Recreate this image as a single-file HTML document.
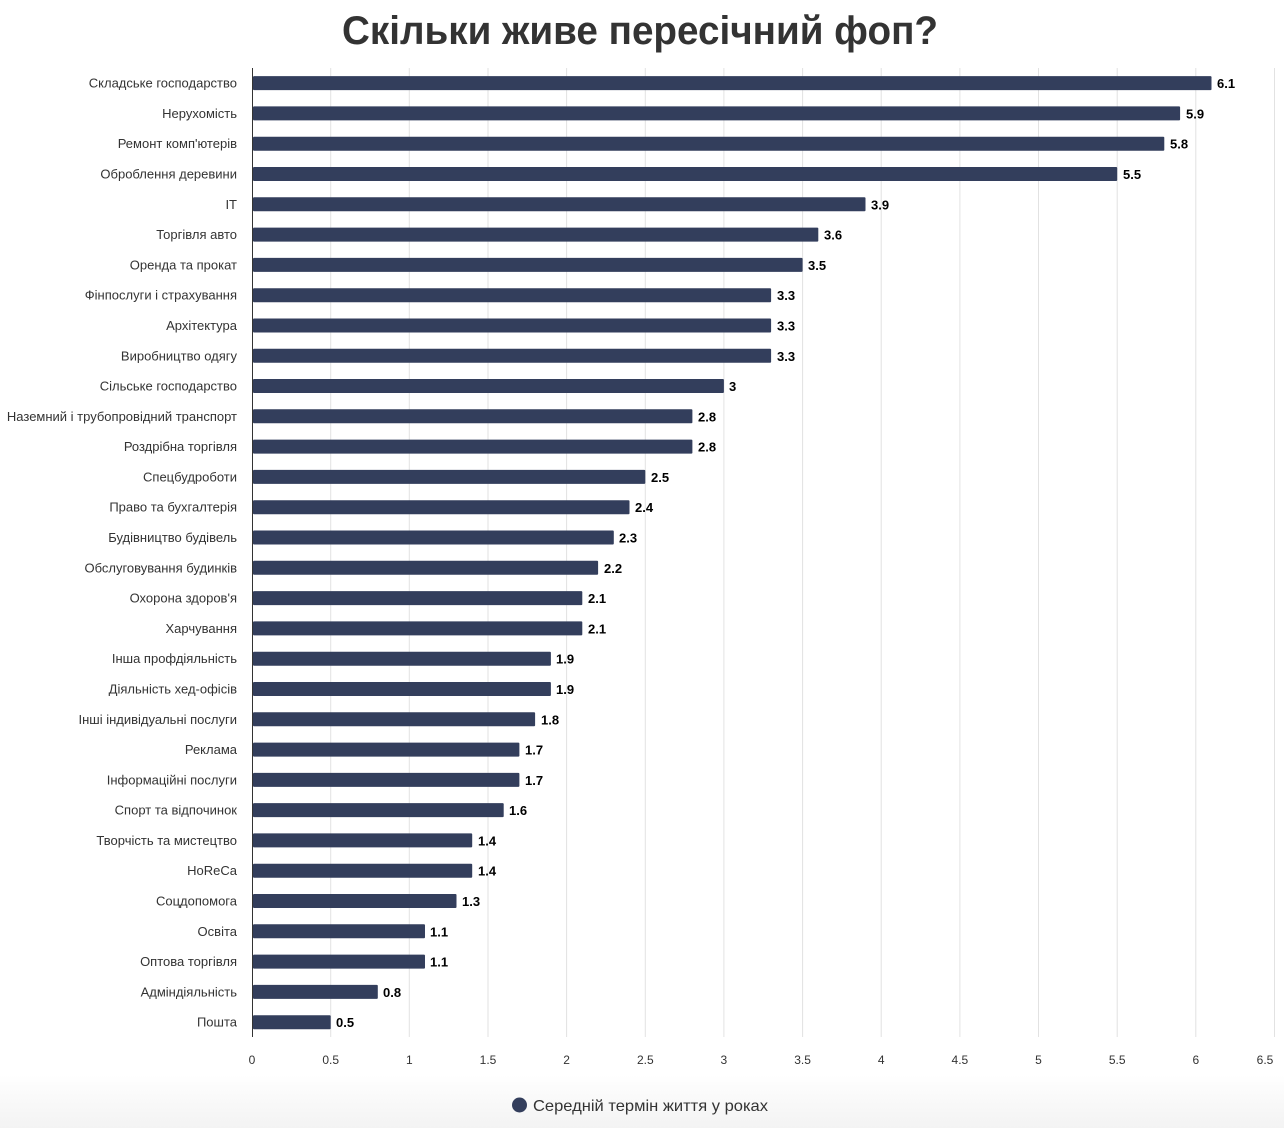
<!DOCTYPE html>
<html><head><meta charset="utf-8"><style>
html,body{margin:0;padding:0;background:#fff}
svg{display:block;font-family:"Liberation Sans",sans-serif}
</style></head><body>
<svg width="1284" height="1128" viewBox="0 0 1284 1128" xmlns="http://www.w3.org/2000/svg">
<defs><linearGradient id="bg" x1="0" y1="0" x2="0" y2="1"><stop offset="0" stop-color="#fff"/><stop offset="1" stop-color="#f3f3f3"/></linearGradient></defs>
<rect x="0" y="1075" width="1284" height="53" fill="url(#bg)"/>
<text x="640" y="44" text-anchor="middle" font-size="40" font-weight="bold" fill="#333" textLength="596" lengthAdjust="spacingAndGlyphs">Скільки живе пересічний фоп?</text>
<g stroke="#e2e2e2" stroke-width="1">
<line x1="330.7" y1="68" x2="330.7" y2="1037"/><line x1="409.3" y1="68" x2="409.3" y2="1037"/><line x1="488" y1="68" x2="488" y2="1037"/><line x1="566.6" y1="68" x2="566.6" y2="1037"/><line x1="645.3" y1="68" x2="645.3" y2="1037"/><line x1="723.9" y1="68" x2="723.9" y2="1037"/><line x1="802.6" y1="68" x2="802.6" y2="1037"/><line x1="881.2" y1="68" x2="881.2" y2="1037"/><line x1="959.9" y1="68" x2="959.9" y2="1037"/><line x1="1038.5" y1="68" x2="1038.5" y2="1037"/><line x1="1117.2" y1="68" x2="1117.2" y2="1037"/><line x1="1195.8" y1="68" x2="1195.8" y2="1037"/><line x1="1274.5" y1="68" x2="1274.5" y2="1037"/>
</g>
<line x1="252.5" y1="68" x2="252.5" y2="1037" stroke="#333" stroke-width="1"/>
<g font-size="12" fill="#333" text-anchor="middle">
<text x="252" y="1064">0</text><text x="330.7" y="1064">0.5</text><text x="409.3" y="1064">1</text><text x="488" y="1064">1.5</text><text x="566.6" y="1064">2</text><text x="645.3" y="1064">2.5</text><text x="723.9" y="1064">3</text><text x="802.6" y="1064">3.5</text><text x="881.2" y="1064">4</text><text x="959.9" y="1064">4.5</text><text x="1038.5" y="1064">5</text><text x="1117.2" y="1064">5.5</text><text x="1195.8" y="1064">6</text><text x="1265" y="1064">6.5</text>
</g>
<g id="rows">
<g transform="translate(0,83.1)"><text x="237" y="4.5" font-size="13" fill="#333" text-anchor="end">Складське господарство</text><rect x="253" y="-7" width="958.5" height="14" fill="#333e5c" rx="1"/><text x="1217" y="5" font-size="13" font-weight="bold">6.1</text></g>
<g transform="translate(0,113.4)"><text x="237" y="4.5" font-size="13" fill="#333" text-anchor="end">Нерухомість</text><rect x="253" y="-7" width="927.1" height="14" fill="#333e5c" rx="1"/><text x="1186" y="5" font-size="13" font-weight="bold">5.9</text></g>
<g transform="translate(0,143.7)"><text x="237" y="4.5" font-size="13" fill="#333" text-anchor="end">Ремонт комп'ютерів</text><rect x="253" y="-7" width="911.3" height="14" fill="#333e5c" rx="1"/><text x="1170" y="5" font-size="13" font-weight="bold">5.8</text></g>
<g transform="translate(0,174.0)"><text x="237" y="4.5" font-size="13" fill="#333" text-anchor="end">Оброблення деревини</text><rect x="253" y="-7" width="864.2" height="14" fill="#333e5c" rx="1"/><text x="1123" y="5" font-size="13" font-weight="bold">5.5</text></g>
<g transform="translate(0,204.3)"><text x="237" y="4.5" font-size="13" fill="#333" text-anchor="end">IT</text><rect x="253" y="-7" width="612.5" height="14" fill="#333e5c" rx="1"/><text x="871" y="5" font-size="13" font-weight="bold">3.9</text></g>
<g transform="translate(0,234.6)"><text x="237" y="4.5" font-size="13" fill="#333" text-anchor="end">Торгівля авто</text><rect x="253" y="-7" width="565.3" height="14" fill="#333e5c" rx="1"/><text x="824" y="5" font-size="13" font-weight="bold">3.6</text></g>
<g transform="translate(0,264.9)"><text x="237" y="4.5" font-size="13" fill="#333" text-anchor="end">Оренда та прокат</text><rect x="253" y="-7" width="549.6" height="14" fill="#333e5c" rx="1"/><text x="808" y="5" font-size="13" font-weight="bold">3.5</text></g>
<g transform="translate(0,295.2)"><text x="237" y="4.5" font-size="13" fill="#333" text-anchor="end">Фінпослуги і страхування</text><rect x="253" y="-7" width="518.1" height="14" fill="#333e5c" rx="1"/><text x="777" y="5" font-size="13" font-weight="bold">3.3</text></g>
<g transform="translate(0,325.5)"><text x="237" y="4.5" font-size="13" fill="#333" text-anchor="end">Архітектура</text><rect x="253" y="-7" width="518.1" height="14" fill="#333e5c" rx="1"/><text x="777" y="5" font-size="13" font-weight="bold">3.3</text></g>
<g transform="translate(0,355.8)"><text x="237" y="4.5" font-size="13" fill="#333" text-anchor="end">Виробництво одягу</text><rect x="253" y="-7" width="518.1" height="14" fill="#333e5c" rx="1"/><text x="777" y="5" font-size="13" font-weight="bold">3.3</text></g>
<g transform="translate(0,386.0)"><text x="237" y="4.5" font-size="13" fill="#333" text-anchor="end">Сільське господарство</text><rect x="253" y="-7" width="470.9" height="14" fill="#333e5c" rx="1"/><text x="729" y="5" font-size="13" font-weight="bold">3</text></g>
<g transform="translate(0,416.3)"><text x="237" y="4.5" font-size="13" fill="#333" text-anchor="end">Наземний і трубопровідний транспорт</text><rect x="253" y="-7" width="439.4" height="14" fill="#333e5c" rx="1"/><text x="698" y="5" font-size="13" font-weight="bold">2.8</text></g>
<g transform="translate(0,446.6)"><text x="237" y="4.5" font-size="13" fill="#333" text-anchor="end">Роздрібна торгівля</text><rect x="253" y="-7" width="439.4" height="14" fill="#333e5c" rx="1"/><text x="698" y="5" font-size="13" font-weight="bold">2.8</text></g>
<g transform="translate(0,476.9)"><text x="237" y="4.5" font-size="13" fill="#333" text-anchor="end">Спецбудроботи</text><rect x="253" y="-7" width="392.3" height="14" fill="#333e5c" rx="1"/><text x="651" y="5" font-size="13" font-weight="bold">2.5</text></g>
<g transform="translate(0,507.2)"><text x="237" y="4.5" font-size="13" fill="#333" text-anchor="end">Право та бухгалтерія</text><rect x="253" y="-7" width="376.5" height="14" fill="#333e5c" rx="1"/><text x="635" y="5" font-size="13" font-weight="bold">2.4</text></g>
<g transform="translate(0,537.5)"><text x="237" y="4.5" font-size="13" fill="#333" text-anchor="end">Будівництво будівель</text><rect x="253" y="-7" width="360.8" height="14" fill="#333e5c" rx="1"/><text x="619" y="5" font-size="13" font-weight="bold">2.3</text></g>
<g transform="translate(0,567.8)"><text x="237" y="4.5" font-size="13" fill="#333" text-anchor="end">Обслуговування будинків</text><rect x="253" y="-7" width="345.1" height="14" fill="#333e5c" rx="1"/><text x="604" y="5" font-size="13" font-weight="bold">2.2</text></g>
<g transform="translate(0,598.1)"><text x="237" y="4.5" font-size="13" fill="#333" text-anchor="end">Охорона здоров'я</text><rect x="253" y="-7" width="329.3" height="14" fill="#333e5c" rx="1"/><text x="588" y="5" font-size="13" font-weight="bold">2.1</text></g>
<g transform="translate(0,628.4)"><text x="237" y="4.5" font-size="13" fill="#333" text-anchor="end">Харчування</text><rect x="253" y="-7" width="329.3" height="14" fill="#333e5c" rx="1"/><text x="588" y="5" font-size="13" font-weight="bold">2.1</text></g>
<g transform="translate(0,658.7)"><text x="237" y="4.5" font-size="13" fill="#333" text-anchor="end">Інша профдіяльність</text><rect x="253" y="-7" width="297.9" height="14" fill="#333e5c" rx="1"/><text x="556" y="5" font-size="13" font-weight="bold">1.9</text></g>
<g transform="translate(0,689.0)"><text x="237" y="4.5" font-size="13" fill="#333" text-anchor="end">Діяльність хед-офісів</text><rect x="253" y="-7" width="297.9" height="14" fill="#333e5c" rx="1"/><text x="556" y="5" font-size="13" font-weight="bold">1.9</text></g>
<g transform="translate(0,719.3)"><text x="237" y="4.5" font-size="13" fill="#333" text-anchor="end">Інші індивідуальні послуги</text><rect x="253" y="-7" width="282.1" height="14" fill="#333e5c" rx="1"/><text x="541" y="5" font-size="13" font-weight="bold">1.8</text></g>
<g transform="translate(0,749.6)"><text x="237" y="4.5" font-size="13" fill="#333" text-anchor="end">Реклама</text><rect x="253" y="-7" width="266.4" height="14" fill="#333e5c" rx="1"/><text x="525" y="5" font-size="13" font-weight="bold">1.7</text></g>
<g transform="translate(0,779.9)"><text x="237" y="4.5" font-size="13" fill="#333" text-anchor="end">Інформаційні послуги</text><rect x="253" y="-7" width="266.4" height="14" fill="#333e5c" rx="1"/><text x="525" y="5" font-size="13" font-weight="bold">1.7</text></g>
<g transform="translate(0,810.1)"><text x="237" y="4.5" font-size="13" fill="#333" text-anchor="end">Спорт та відпочинок</text><rect x="253" y="-7" width="250.7" height="14" fill="#333e5c" rx="1"/><text x="509" y="5" font-size="13" font-weight="bold">1.6</text></g>
<g transform="translate(0,840.4)"><text x="237" y="4.5" font-size="13" fill="#333" text-anchor="end">Творчість та мистецтво</text><rect x="253" y="-7" width="219.2" height="14" fill="#333e5c" rx="1"/><text x="478" y="5" font-size="13" font-weight="bold">1.4</text></g>
<g transform="translate(0,870.7)"><text x="237" y="4.5" font-size="13" fill="#333" text-anchor="end">HoReCa</text><rect x="253" y="-7" width="219.2" height="14" fill="#333e5c" rx="1"/><text x="478" y="5" font-size="13" font-weight="bold">1.4</text></g>
<g transform="translate(0,901.0)"><text x="237" y="4.5" font-size="13" fill="#333" text-anchor="end">Соцдопомога</text><rect x="253" y="-7" width="203.5" height="14" fill="#333e5c" rx="1"/><text x="462" y="5" font-size="13" font-weight="bold">1.3</text></g>
<g transform="translate(0,931.3)"><text x="237" y="4.5" font-size="13" fill="#333" text-anchor="end">Освіта</text><rect x="253" y="-7" width="172" height="14" fill="#333e5c" rx="1"/><text x="430" y="5" font-size="13" font-weight="bold">1.1</text></g>
<g transform="translate(0,961.6)"><text x="237" y="4.5" font-size="13" fill="#333" text-anchor="end">Оптова торгівля</text><rect x="253" y="-7" width="172" height="14" fill="#333e5c" rx="1"/><text x="430" y="5" font-size="13" font-weight="bold">1.1</text></g>
<g transform="translate(0,991.9)"><text x="237" y="4.5" font-size="13" fill="#333" text-anchor="end">Адміндіяльність</text><rect x="253" y="-7" width="124.8" height="14" fill="#333e5c" rx="1"/><text x="383" y="5" font-size="13" font-weight="bold">0.8</text></g>
<g transform="translate(0,1022.2)"><text x="237" y="4.5" font-size="13" fill="#333" text-anchor="end">Пошта</text><rect x="253" y="-7" width="77.7" height="14" fill="#333e5c" rx="1"/><text x="336" y="5" font-size="13" font-weight="bold">0.5</text></g>
</g>
<circle cx="519.5" cy="1105" r="7.5" fill="#333e5c"/>
<text x="533" y="1111" font-size="16" fill="#333" textLength="235" lengthAdjust="spacingAndGlyphs">Середній термін життя у роках</text>
</svg>
</body></html>
